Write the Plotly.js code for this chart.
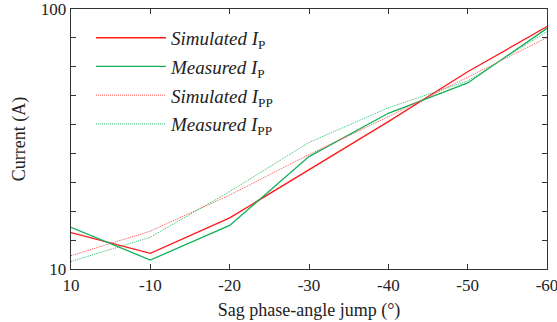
<!DOCTYPE html>
<html>
<head>
<meta charset="utf-8">
<script src="https://cdn.plot.ly/plotly-3.0.1.min.js"></script>
<style>html,body{margin:0;padding:0;background:#fff;}#chart{width:557px;height:322px;}</style>
</head>
<body>
<div id="chart"></div>
<script>
const angles = ['10', '-10', '-20', '-30', '-40', '-50', '-60'];
const simulatedIP  = [22.6, 15.4, 27.7, 44.4, 61.0, 78.3, 93.9];
const measuredIP   = [24.4, 13.1, 25.1, 48.9, 63.9, 74.4, 93.3];
const simulatedIPP = [14.6, 23.1, 35.6, 49.6, 62.7, 76.5, 90.1];
const measuredIPP  = [12.6, 21.0, 36.8, 53.8, 65.8, 75.1, 92.2];
const yTickVals = [10, 20, 30, 40, 50, 60, 70, 80, 90, 100];
const yTickText = ['10', '', '', '', '', '', '', '', '', '100'];

const RED = '#ff1a1a', GREEN = '#12b05a';
const RED_L = '#ff4d4d', GREEN_L = '#2fbf6f';
const traces = [
  {x: angles, y: simulatedIP, name: '<i>Simulated I</i><sub>P</sub>', legendgroup: 'a',
   line: {color: RED, width: 1.3}},
  {x: angles, y: measuredIP, name: '<i>Measured I</i><sub>P</sub>', legendgroup: 'b',
   line: {color: GREEN, width: 1.3}},
  {x: angles, y: simulatedIPP, name: '<i>Simulated I</i><sub>PP</sub>', legendgroup: 'c',
   line: {color: RED_L, width: 1, dash: '1px,1px'}},
  {x: angles, y: measuredIPP, name: '<i>Measured I</i><sub>PP</sub>', legendgroup: 'd',
   line: {color: GREEN_L, width: 1, dash: '1px,1px'}}
].map(t => Object.assign({type: 'scatter', mode: 'lines'}, t));

const axisCommon = {
  showline: true, linecolor: '#333', linewidth: 1.3, mirror: 'ticks',
  ticks: 'inside', ticklen: 5, tickcolor: '#333', showgrid: false, zeroline: false,
  ticklabeloverflow: 'allow',
  tickfont: {family: 'Liberation Serif, Times New Roman, serif', size: 17, color: '#222'}
};

const layout = {
  width: 557, height: 322,
  margin: {l: 71, r: 10, t: 9, b: 53},
  paper_bgcolor: '#fff', plot_bgcolor: '#fff',
  font: {family: 'Liberation Serif, Times New Roman, serif', color: '#222'},
  showlegend: true,
  legend: {x: 0.042, y: 0.962, xanchor: 'left', yanchor: 'top', bgcolor: 'rgba(0,0,0,0)',
           traceorder: 'grouped', tracegroupgap: 1, itemwidth: 70,
           font: {family: 'Liberation Serif, Times New Roman, serif', size: 19, color: '#222'}},
  xaxis: Object.assign({}, axisCommon, {
    type: 'category', range: [0, 6],
    title: {text: 'Sag phase-angle jump (°)', standoff: 9,
            font: {family: 'Liberation Serif, Times New Roman, serif', size: 18, color: '#222'}}
  }),
  yaxis: Object.assign({}, axisCommon, {
    type: 'linear', range: [10, 100], tickmode: 'array', tickvals: yTickVals, ticktext: yTickText,
    title: {text: 'Current (A)', standoff: 10,
            font: {family: 'Liberation Serif, Times New Roman, serif', size: 18, color: '#222'}}
  })
};

Plotly.newPlot('chart', traces, layout, {displayModeBar: false, staticPlot: true});
</script>
</body>
</html>
